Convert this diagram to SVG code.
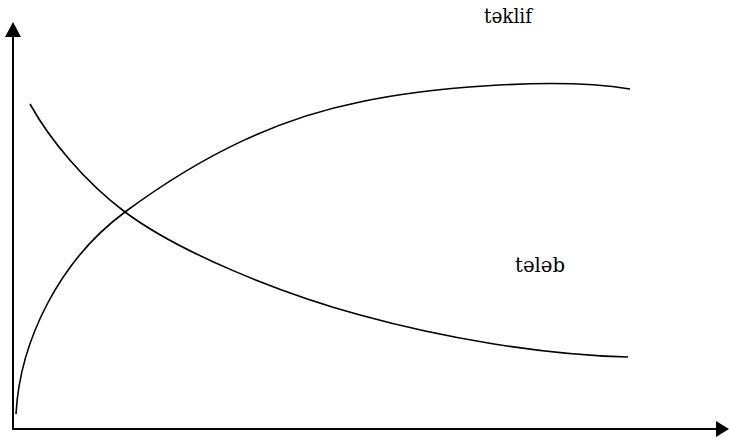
<svg xmlns="http://www.w3.org/2000/svg" width="729" height="439" viewBox="0 0 729 439">
  <style>
    .axis { stroke: #000; stroke-width: 2; fill: none; }
    .curve { stroke: #000; stroke-width: 1.6; fill: none; }
    .lbl { font-family: 'DejaVu Serif', serif; font-size: 20px; fill: #000; }
  </style>
  <rect width="729" height="439" fill="#fff"/>
  <g id="axes">
    <line class="axis" x1="13" y1="430" x2="13" y2="35"/>
    <polygon points="13,22 5,37 21,37" fill="#000"/>
    <line class="axis" x1="12" y1="429" x2="718" y2="429"/>
    <polygon points="729,429 716,421 716,437" fill="#000"/>
  </g>
  <g id="connectors">
    <path id="supply" class="curve" d="M16,414 C20,340 60,260 125,212 C205,153 280,118 360,102 C420,89 550,76 630,89"/>
    <path id="demand" class="curve" d="M30,104 C50,140 85,182 125,212 C180,253 280,293 360,315 C440,337 540,355 628,357"/>
  </g>
  <g id="label-teklif">
    <text class="lbl" x="484" y="23" textLength="48" lengthAdjust="spacingAndGlyphs">təklif</text>
  </g>
  <g id="label-teleb">
    <text class="lbl" x="515" y="272" textLength="50" lengthAdjust="spacingAndGlyphs">tələb</text>
  </g>
</svg>
